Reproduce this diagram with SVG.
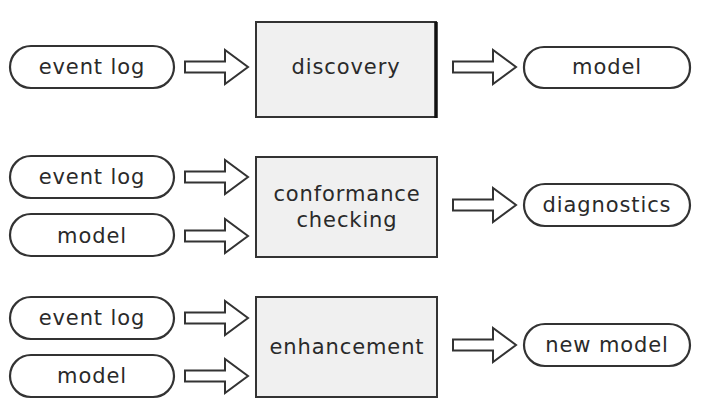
<svg xmlns="http://www.w3.org/2000/svg" width="713" height="408" viewBox="0 0 713 408">
<defs>
<style>
.pill{fill:#fff;stroke:#333;stroke-width:2.2}
.box{fill:#f0f0f0;stroke:#333;stroke-width:2}
.arr{fill:#fff;stroke:#333;stroke-width:2;stroke-linejoin:miter}
text{font-family:"DejaVu Sans",Verdana,sans-serif;font-size:21px;fill:#2a2a2a;text-anchor:middle;dominant-baseline:central;letter-spacing:0.9px}
</style>
<path id="a" d="M0,-5.5 H40 V-17 L63,0 L40,17 V5.5 H0 Z"/>
</defs>
<rect width="713" height="408" fill="#fff"/>
<g id="connectors">
<use href="#a" class="arr" x="185" y="67"/>
<use href="#a" class="arr" x="453" y="67"/>
<use href="#a" class="arr" x="185" y="177"/>
<use href="#a" class="arr" x="185" y="236"/>
<use href="#a" class="arr" x="453" y="205"/>
<use href="#a" class="arr" x="185" y="318"/>
<use href="#a" class="arr" x="185" y="376"/>
<use href="#a" class="arr" x="453" y="345"/>
</g>
<g id="n1"><rect class="pill" x="10" y="46" width="164" height="42" rx="21"/><text x="92" y="67">event log</text></g>
<g id="n2"><rect class="box" x="256" y="22" width="180" height="95"/><line x1="436" y1="22" x2="436" y2="118" stroke="#111" stroke-width="3.5"/><text x="346" y="67">discovery</text></g>
<g id="n3"><rect class="pill" x="524" y="47" width="166" height="41" rx="20"/><text x="607" y="67">model</text></g>
<g id="n4"><rect class="pill" x="10" y="156" width="164" height="42" rx="21"/><text x="92" y="177">event log</text></g>
<g id="n5"><rect class="pill" x="10" y="214" width="164" height="42" rx="21"/><text x="92" y="236">model</text></g>
<g id="n6"><rect class="box" x="256" y="157" width="181" height="100"/><text x="347" y="194">conformance</text><text x="347" y="220">checking</text></g>
<g id="n7"><rect class="pill" x="524" y="184" width="166" height="42" rx="21"/><text x="607" y="205">diagnostics</text></g>
<g id="n8"><rect class="pill" x="10" y="297" width="164" height="42" rx="21"/><text x="92" y="318">event log</text></g>
<g id="n9"><rect class="pill" x="10" y="355" width="164" height="42" rx="21"/><text x="92" y="376">model</text></g>
<g id="n10"><rect class="box" x="256" y="297" width="181" height="100"/><text x="347" y="347">enhancement</text></g>
<g id="n11"><rect class="pill" x="524" y="324" width="166" height="42" rx="21"/><text x="607" y="345">new model</text></g>
</svg>
